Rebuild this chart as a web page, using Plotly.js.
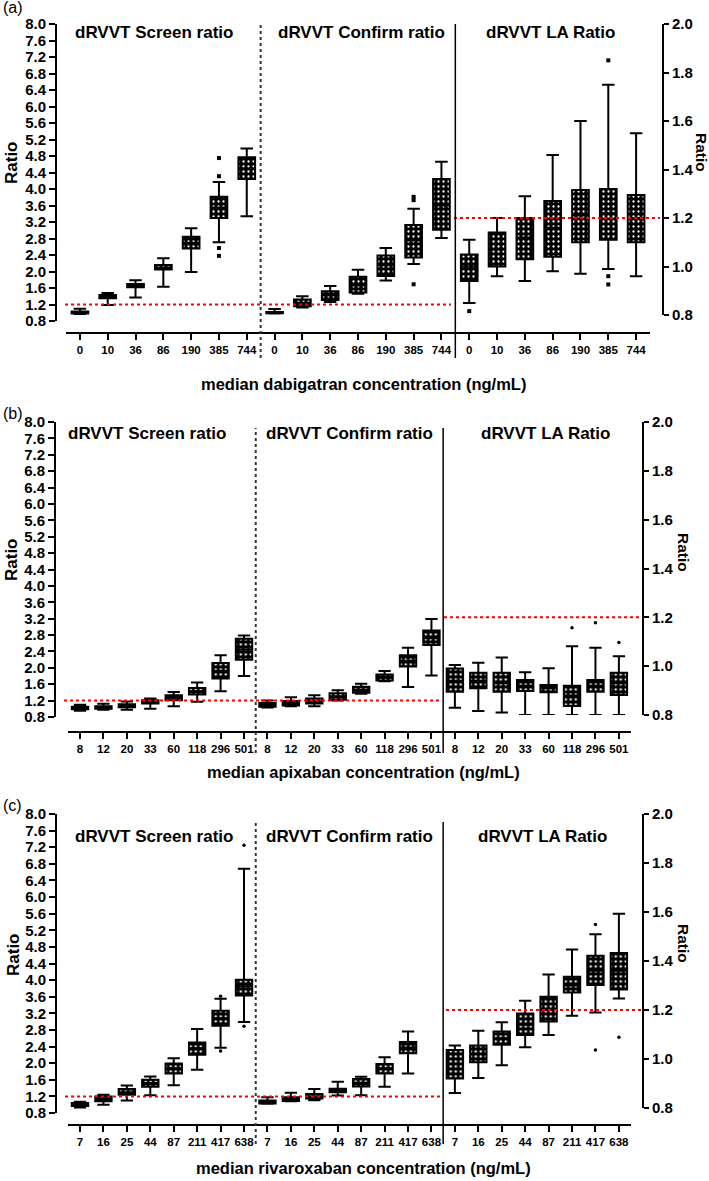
<!DOCTYPE html>
<html><head><meta charset="utf-8">
<script src="https://cdn.plot.ly/plotly-3.0.1.min.js"></script>
<style>html,body{margin:0;padding:0;background:#fff}#chart{width:709px;height:1181px}</style>
</head><body><div id="chart"></div>
<script>
// ---------- text ----------
const sectionTitles = ['dRVVT Screen ratio', 'dRVVT Confirm ratio', 'dRVVT LA Ratio'];
const panelLetters = ['(a)', '(b)', '(c)'];
const xTitles = ['median dabigatran concentration (ng/mL)', 'median apixaban concentration (ng/mL)', 'median rivaroxaban concentration (ng/mL)'];
const yTitle = 'Ratio';
const leftTicks = [0.8, 1.2, 1.6, 2.0, 2.4, 2.8, 3.2, 3.6, 4.0, 4.4, 4.8, 5.2, 5.6, 6.0, 6.4, 6.8, 7.2, 7.6, 8.0];
const rightTicks = [0.8, 1.0, 1.2, 1.4, 1.6, 1.8, 2.0];
const cutoff = 1.2;

// ---------- panel (a) dabigatran ----------
const aCats = ['0', '10', '36', '86', '190', '385', '744'];
const aScreenQ1  = [0.98, 1.35, 1.62, 2.05, 2.56, 3.30, 4.24];
const aScreenMed = [1.00, 1.39, 1.66, 2.10, 2.70, 3.55, 4.50];
const aScreenQ3  = [1.03, 1.43, 1.70, 2.16, 2.84, 3.81, 4.77];
const aScreenLo  = [0.97, 1.19, 1.37, 1.63, 1.99, 2.71, 3.34];
const aScreenHi  = [1.10, 1.48, 1.79, 2.32, 3.05, 4.17, 4.98];
const aScreenOutCat = [5, 5, 5, 5];
const aScreenOutVal = [4.75, 4.31, 2.57, 2.38];
const aConfQ1  = [0.99, 1.16, 1.31, 1.49, 1.89, 2.34, 3.01];
const aConfMed = [1.00, 1.24, 1.42, 1.66, 2.15, 2.75, 3.60];
const aConfQ3  = [1.02, 1.32, 1.52, 1.87, 2.39, 3.13, 4.24];
const aConfLo  = [0.98, 1.13, 1.26, 1.46, 1.78, 2.18, 2.81];
const aConfHi  = [1.09, 1.40, 1.65, 2.04, 2.57, 3.52, 4.66];
const aConfOutCat = [5, 5, 5];
const aConfOutVal = [3.81, 3.73, 1.69];
const aLAQ1  = [0.94, 1.00, 1.03, 1.04, 1.10, 1.11, 1.10];
const aLAMed = [1.00, 1.07, 1.12, 1.16, 1.21, 1.22, 1.20];
const aLAQ3  = [1.05, 1.14, 1.20, 1.27, 1.315, 1.32, 1.295];
const aLALo  = [0.85, 0.96, 0.94, 0.98, 0.97, 0.99, 0.96];
const aLAHi  = [1.11, 1.20, 1.29, 1.46, 1.60, 1.75, 1.55];
const aLAOutCat = [0, 5, 5, 5];
const aLAOutVal = [0.816, 1.85, 0.96, 0.926];

// ---------- panel (b) apixaban ----------
const bCats = ['8', '12', '20', '33', '60', '118', '296', '501'];
const bScreenQ1  = [0.99, 1.00, 1.04, 1.13, 1.21, 1.35, 1.74, 2.20];
const bScreenMed = [1.02, 1.03, 1.07, 1.17, 1.27, 1.43, 1.93, 2.45];
const bScreenQ3  = [1.05, 1.06, 1.11, 1.21, 1.33, 1.51, 2.12, 2.71];
const bScreenLo  = [0.95, 0.98, 0.98, 1.00, 1.06, 1.17, 1.43, 1.80];
const bScreenHi  = [1.10, 1.125, 1.18, 1.25, 1.41, 1.64, 2.31, 2.79];
const bScreenOutCat = [];
const bScreenOutVal = [];
const bConfQ1  = [1.05, 1.08, 1.13, 1.22, 1.39, 1.69, 2.03, 2.56];
const bConfMed = [1.10, 1.13, 1.18, 1.30, 1.46, 1.76, 2.17, 2.72];
const bConfQ3  = [1.14, 1.19, 1.25, 1.38, 1.54, 1.84, 2.31, 2.91];
const bConfLo  = [1.03, 1.06, 1.06, 1.20, 1.37, 1.67, 1.53, 1.81];
const bConfHi  = [1.20, 1.28, 1.33, 1.45, 1.61, 1.92, 2.49, 3.19];
const bConfOutCat = [];
const bConfOutVal = [];
const bLAQ1  = [0.895, 0.91, 0.895, 0.898, 0.893, 0.837, 0.895, 0.882];
const bLAMed = [0.94, 0.94, 0.93, 0.92, 0.91, 0.88, 0.92, 0.93];
const bLAQ3  = [0.99, 0.973, 0.973, 0.943, 0.923, 0.92, 0.943, 0.973];
const bLALo  = [0.83, 0.816, 0.81, 0.80, 0.80, 0.80, 0.80, 0.80];
const bLAHi  = [1.005, 1.014, 1.035, 0.975, 0.991, 1.082, 1.075, 1.041];
const bLAOutCat = [1, 5, 6, 7];
const bLAOutVal = [0.796, 1.157, 1.178, 1.097];

// ---------- panel (c) rivaroxaban ----------
const cCats = ['7', '16', '25', '44', '87', '211', '417', '638'];
const cScreenQ1  = [0.97, 1.08, 1.24, 1.43, 1.75, 2.20, 2.90, 3.63];
const cScreenMed = [1.00, 1.13, 1.30, 1.52, 1.88, 2.36, 3.08, 3.85];
const cScreenQ3  = [1.04, 1.20, 1.38, 1.60, 1.99, 2.50, 3.26, 4.01];
const cScreenLo  = [0.93, 1.00, 1.10, 1.23, 1.47, 1.84, 2.37, 2.99];
const cScreenHi  = [1.07, 1.24, 1.46, 1.68, 2.12, 2.82, 3.55, 6.68];
const cScreenOutCat = [6, 6, 7, 7];
const cScreenOutVal = [3.61, 2.29, 7.25, 2.89];
const cConfQ1  = [1.03, 1.09, 1.15, 1.30, 1.44, 1.75, 2.24, null];
const cConfMed = [1.06, 1.13, 1.20, 1.35, 1.53, 1.88, 2.38, null];
const cConfQ3  = [1.10, 1.18, 1.26, 1.385, 1.62, 1.98, 2.51, null];
const cConfLo  = [1.02, 1.08, 1.11, 1.22, 1.23, 1.43, 1.75, null];
const cConfHi  = [1.18, 1.29, 1.38, 1.55, 1.67, 2.14, 2.76, null];
const cConfOutCat = [];
const cConfOutVal = [];
const cLAQ1  = [0.92, 0.987, 1.058, 1.098, 1.153, 1.271, 1.302, 1.284];
const cLAMed = [0.98, 1.02, 1.085, 1.14, 1.20, 1.30, 1.36, 1.36];
const cLAQ3  = [1.037, 1.055, 1.112, 1.186, 1.254, 1.336, 1.421, 1.433];
const cLALo  = [0.861, 0.922, 0.974, 1.048, 1.098, 1.177, 1.19, 1.247];
const cLAHi  = [1.055, 1.115, 1.15, 1.238, 1.345, 1.447, 1.509, 1.593];
const cLAOutCat = [6, 6, 7];
const cLAOutVal = [1.549, 1.037, 1.089];

// ---------- geometry (pixels) ----------
const W = 709, H = 1181;
const px = v => v / W;
const py = v => 1 - v / H;
const FONT = '"Liberation Sans", Arial, sans-serif';

const G = [
  {x0: 66, x1: 650, xmax: 20.5, yTop: 24, yBotL: 321, yBotR: 315, axL: 56, axR: 663, xLine: 333,
   divTop: 24, divBot: 358, redL: [65, 451], redR: [454, 660], titleY: 32, titles: [154, 361, 550],
   xTitleY: 384, ratioL: [12, 163], ratioR: [702, 152], letterY: 8, boxW: 0.6, sym: 'square'},
  {x0: 68.3, x1: 630.6, xmax: 23.5, yTop: 422, yBotL: 717, yBotR: 715, axL: 55, axR: 643, xLine: 732,
   divTop: 428, divBot: 753, redL: [64, 440], redR: [444, 642], titleY: 433, titles: [147, 349, 545],
   xTitleY: 772, ratioL: [12, 560], ratioR: [684, 552], letterY: 413, boxW: 0.7, sym: 'circle'},
  {x0: 68.3, x1: 630.6, xmax: 23.5, yTop: 814, yBotL: 1113, yBotR: 1108, axL: 56, axR: 643, xLine: 1125,
   divTop: 822, divBot: 1144, redL: [65, 443], redR: [446, 642], titleY: 836, titles: [154, 349.5, 542],
   xTitleY: 1168, ratioL: [13, 955], ratioR: [684, 943], letterY: 805, boxW: 0.7, sym: 'circle'}
];

const panels = [
  {cats: aCats,
   sections: [
     [aScreenQ1, aScreenMed, aScreenQ3, aScreenLo, aScreenHi, aScreenOutCat, aScreenOutVal],
     [aConfQ1, aConfMed, aConfQ3, aConfLo, aConfHi, aConfOutCat, aConfOutVal],
     [aLAQ1, aLAMed, aLAQ3, aLALo, aLAHi, aLAOutCat, aLAOutVal]]},
  {cats: bCats,
   sections: [
     [bScreenQ1, bScreenMed, bScreenQ3, bScreenLo, bScreenHi, bScreenOutCat, bScreenOutVal],
     [bConfQ1, bConfMed, bConfQ3, bConfLo, bConfHi, bConfOutCat, bConfOutVal],
     [bLAQ1, bLAMed, bLAQ3, bLALo, bLAHi, bLAOutCat, bLAOutVal]]},
  {cats: cCats,
   sections: [
     [cScreenQ1, cScreenMed, cScreenQ3, cScreenLo, cScreenHi, cScreenOutCat, cScreenOutVal],
     [cConfQ1, cConfMed, cConfQ3, cConfLo, cConfHi, cConfOutCat, cConfOutVal],
     [cLAQ1, cLAMed, cLAQ3, cLALo, cLAHi, cLAOutCat, cLAOutVal]]}
];

const traces = [];
const shapes = [];
const annotations = [];
const layout = {
  width: W, height: H, margin: {l: 0, r: 0, t: 0, b: 0},
  paper_bgcolor: 'white', plot_bgcolor: 'rgba(0,0,0,0)',
  showlegend: false, barmode: 'overlay', boxmode: 'overlay', hovermode: false
};

function addSection(xa, ya, start, s, w, sym) {
  const [q1, med, q3, lo, hi, outCat, outVal] = s;
  const keep = [];
  q1.forEach((v, i) => { if (v !== null) keep.push(i); });
  const X = keep.map(i => start + i);
  const pick = arr => keep.map(i => arr[i]);
  // dotted box body (bar with pattern), drawn beneath the box outline/whiskers
  traces.push({type: 'bar', xaxis: xa, yaxis: ya, x: X, base: pick(q1),
    y: keep.map(i => q3[i] - q1[i]), width: w,
    marker: {color: 'black', line: {color: 'black', width: 0},
      pattern: {shape: '.', bgcolor: 'black', fgcolor: 'white', size: 5, solidity: 0.16, fillmode: 'replace'}},
    hoverinfo: 'skip'});
  traces.push({type: 'box', xaxis: xa, yaxis: ya, x: X,
    q1: pick(q1), median: pick(med), q3: pick(q3), lowerfence: pick(lo), upperfence: pick(hi),
    width: w, whiskerwidth: 0.75, fillcolor: 'rgba(0,0,0,0)', line: {color: 'black', width: 2},
    boxpoints: false, hoverinfo: 'skip'});
  if (outCat.length) {
    traces.push({type: 'scatter', mode: 'markers', xaxis: xa, yaxis: ya,
      x: outCat.map(i => start + i), y: outVal, cliponaxis: false,
      marker: {symbol: sym, size: sym === 'square' ? 4 : 3.5, color: 'black'}, hoverinfo: 'skip'});
  }
}

panels.forEach((p, k) => {
  const g = G[k];
  const n = p.cats.length;
  const xs = k === 0 ? '' : String(k + 1);
  const xa = 'x' + xs;
  const yL = 'y' + (k === 0 ? '' : String(2 * k + 1));
  const yR = 'y' + String(2 * k + 2);
  const xaKey = 'xaxis' + xs;
  const yLKey = 'yaxis' + (k === 0 ? '' : String(2 * k + 1));
  const yRKey = 'yaxis' + String(2 * k + 2);

  addSection(xa, yL, 0, p.sections[0], g.boxW, g.sym);
  addSection(xa, yL, n, p.sections[1], g.boxW, g.sym);
  addSection(xa, yR, 2 * n, p.sections[2], g.boxW, g.sym);

  const tickvals = [], ticktext = [];
  for (let r = 0; r < 3; r++) p.cats.forEach((c, i) => { tickvals.push(r * n + i); ticktext.push(c); });

  layout[xaKey] = {
    domain: [px(g.x0), px(g.x1)], range: [-0.5, g.xmax], anchor: 'free', position: py(g.xLine),
    showline: true, linecolor: 'black', linewidth: 2, ticks: 'outside', ticklen: 6, tickwidth: 2,
    tickcolor: 'black', tickmode: 'array', tickvals: tickvals, ticktext: ticktext, tickangle: 0,
    tickfont: {family: FONT, size: 11.5, color: 'black', weight: 'bold'},
    showgrid: false, zeroline: false, fixedrange: true
  };
  layout[yLKey] = {
    domain: [py(g.yBotL), py(g.yTop)], range: [0.8, 8.0], anchor: 'free', position: px(g.axL),
    side: 'left', showline: true, linecolor: 'black', linewidth: 2, ticks: 'outside', ticklen: 6,
    tickwidth: 2, tickcolor: 'black', tickmode: 'array', tickvals: leftTicks,
    ticktext: leftTicks.map(v => v.toFixed(1)),
    tickfont: {family: FONT, size: 15, color: 'black', weight: 'bold'},
    showgrid: false, zeroline: false, fixedrange: true
  };
  layout[yRKey] = {
    domain: [py(g.yBotR), py(g.yTop)], range: [0.8, 2.0], anchor: 'free', position: px(g.axR),
    side: 'right', showline: true, linecolor: 'black', linewidth: 2, ticks: 'outside', ticklen: 5,
    tickwidth: 2, tickcolor: 'black', tickmode: 'array', tickvals: rightTicks,
    ticktext: rightTicks.map(v => v.toFixed(1)),
    tickfont: {family: FONT, size: 15, color: 'black', weight: 'bold'},
    showgrid: false, zeroline: false, fixedrange: true
  };

  // cutoff lines
  shapes.push({type: 'line', xref: 'paper', yref: yL, x0: px(g.redL[0]), x1: px(g.redL[1]), y0: cutoff, y1: cutoff,
    line: {color: 'red', width: 2, dash: 'dot'}});
  shapes.push({type: 'line', xref: 'paper', yref: yR, x0: px(g.redR[0]), x1: px(g.redR[1]), y0: cutoff, y1: cutoff,
    line: {color: 'red', width: 2, dash: 'dot'}});
  // section dividers
  shapes.push({type: 'line', xref: xa, yref: 'paper', x0: n - 0.5, x1: n - 0.5, y0: py(g.divBot), y1: py(g.divTop),
    line: {color: '#333', width: 2, dash: 'dot'}});
  shapes.push({type: 'line', xref: xa, yref: 'paper', x0: 2 * n - 0.5, x1: 2 * n - 0.5, y0: py(g.divBot), y1: py(g.divTop),
    line: {color: 'black', width: 1.5}});

  // texts
  sectionTitles.forEach((t, i) => annotations.push({text: t, xref: 'paper', yref: 'paper',
    x: px(g.titles[i]), y: py(g.titleY), xanchor: 'center', yanchor: 'middle', showarrow: false,
    font: {family: FONT, size: 17, color: 'black', weight: 'bold'}}));
  annotations.push({text: xTitles[k], xref: 'paper', yref: 'paper', x: px(363), y: py(g.xTitleY),
    xanchor: 'center', yanchor: 'middle', showarrow: false,
    font: {family: FONT, size: 16.5, color: 'black', weight: 'bold'}});
  annotations.push({text: yTitle, xref: 'paper', yref: 'paper', x: px(g.ratioL[0]), y: py(g.ratioL[1]),
    xanchor: 'center', yanchor: 'middle', textangle: -90, showarrow: false,
    font: {family: FONT, size: 17, color: 'black', weight: 'bold'}});
  annotations.push({text: yTitle, xref: 'paper', yref: 'paper', x: px(g.ratioR[0]), y: py(g.ratioR[1]),
    xanchor: 'center', yanchor: 'middle', textangle: 90, showarrow: false,
    font: {family: FONT, size: 15.5, color: 'black', weight: 'bold'}});
  annotations.push({text: panelLetters[k], xref: 'paper', yref: 'paper', x: px(1), y: py(g.letterY),
    xanchor: 'left', yanchor: 'middle', showarrow: false,
    font: {family: FONT, size: 16, color: 'black'}});
});

layout.shapes = shapes;
layout.annotations = annotations;

Plotly.newPlot('chart', traces, layout, {staticPlot: true, displayModeBar: false});
</script></body></html>
